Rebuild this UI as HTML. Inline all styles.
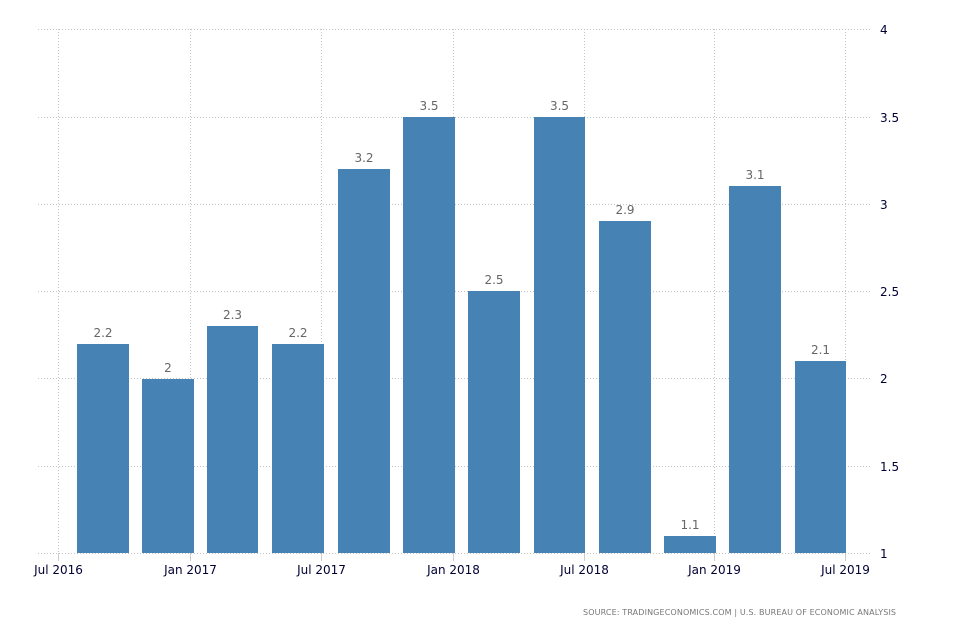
<!DOCTYPE html>
<html><head><style>
html,body{margin:0;padding:0;background:#fff;width:954px;height:636px;overflow:hidden}
svg text{font-family:"DejaVu Sans","Liberation Sans",sans-serif}
</style></head><body>
<svg width="954" height="636" xmlns="http://www.w3.org/2000/svg">
<g stroke="#c4c4c4" stroke-width="1" stroke-dasharray="1,2">
<line x1="38" x2="870" y1="29.5" y2="29.5"/>
<line x1="38" x2="870" y1="117.5" y2="117.5"/>
<line x1="38" x2="870" y1="204.5" y2="204.5"/>
<line x1="38" x2="870" y1="291.5" y2="291.5"/>
<line x1="38" x2="870" y1="378.5" y2="378.5"/>
<line x1="38" x2="870" y1="466.5" y2="466.5"/>
<line x1="38" x2="870" y1="553.5" y2="553.5"/>
<line x1="58.5" x2="58.5" y1="29" y2="553"/>
<line x1="190.5" x2="190.5" y1="29" y2="553"/>
<line x1="321.5" x2="321.5" y1="29" y2="553"/>
<line x1="453.5" x2="453.5" y1="29" y2="553"/>
<line x1="584.5" x2="584.5" y1="29" y2="553"/>
<line x1="714.5" x2="714.5" y1="29" y2="553"/>
<line x1="845.5" x2="845.5" y1="29" y2="553"/>
</g>
<g stroke="#ccc">
<line x1="58.5" x2="58.5" y1="553" y2="561"/><line x1="190.5" x2="190.5" y1="553" y2="561"/>
<line x1="321.5" x2="321.5" y1="553" y2="561"/><line x1="453.5" x2="453.5" y1="553" y2="561"/>
<line x1="584.5" x2="584.5" y1="553" y2="561"/><line x1="714.5" x2="714.5" y1="553" y2="561"/>
<line x1="845.5" x2="845.5" y1="553" y2="561"/>
</g>
<g fill="#4682b4">
<rect x="77" y="344" width="52" height="209"/>
<rect x="142" y="379" width="52" height="174"/>
<rect x="207" y="326" width="51" height="227"/>
<rect x="272" y="344" width="52" height="209"/>
<rect x="338" y="169" width="52" height="384"/>
<rect x="403" y="117" width="52" height="436"/>
<rect x="468" y="291" width="52" height="262"/>
<rect x="534" y="117" width="51" height="436"/>
<rect x="599" y="221" width="52" height="332"/>
<rect x="664" y="536" width="52" height="17"/>
<rect x="729" y="186" width="52" height="367"/>
<rect x="795" y="361" width="51" height="192"/>
</g>
<g fill="#666" font-size="12" text-anchor="middle">
<text x="103" y="337">2.2</text><text x="168" y="372">2</text><text x="232.5" y="319">2.3</text>
<text x="298" y="337">2.2</text><text x="364" y="162">3.2</text><text x="429" y="110">3.5</text>
<text x="494" y="284">2.5</text><text x="559.5" y="110">3.5</text><text x="625" y="214">2.9</text>
<text x="690" y="529">1.1</text><text x="755" y="179">3.1</text><text x="820.5" y="354">2.1</text>
</g>
<g fill="#000033" font-size="12">
<text x="880" y="34">4</text><text x="880" y="122">3.5</text><text x="880" y="209">3</text>
<text x="880" y="296">2.5</text><text x="880" y="383">2</text><text x="880" y="471">1.5</text>
<text x="880" y="558">1</text>
</g>
<g fill="#000033" font-size="12" text-anchor="middle">
<text x="58.5" y="574">Jul 2016</text><text x="190.5" y="574">Jan 2017</text>
<text x="321.5" y="574">Jul 2017</text><text x="453.5" y="574">Jan 2018</text>
<text x="584.5" y="574">Jul 2018</text><text x="714.5" y="574">Jan 2019</text>
<text x="845.5" y="574">Jul 2019</text>
</g>
<text x="583" y="615" fill="#777" font-size="8" textLength="313" lengthAdjust="spacing">SOURCE: TRADINGECONOMICS.COM | U.S. BUREAU OF ECONOMIC ANALYSIS</text>
</svg>
</body></html>
